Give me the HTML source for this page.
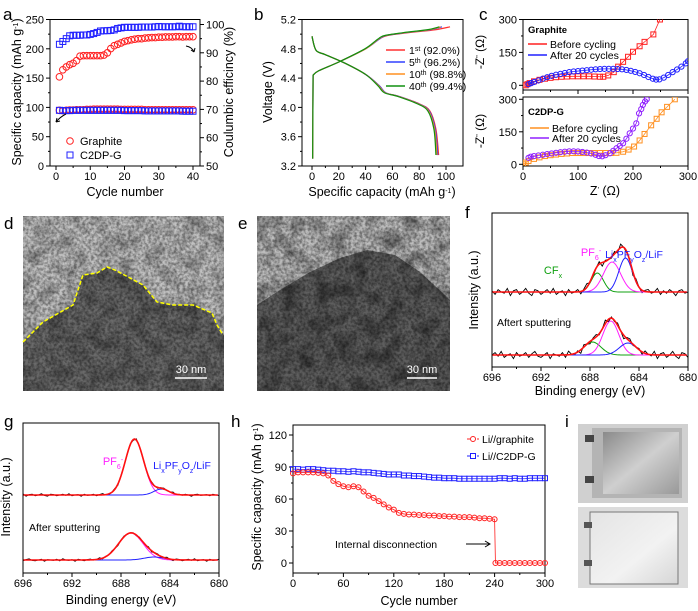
<!DOCTYPE html>
<html><head><meta charset="utf-8"><style>
html,body{margin:0;padding:0;background:#fff}
svg{display:block;font-family:"Liberation Sans",Arial,sans-serif}
</style></head><body>
<svg id="fig" width="698" height="611" viewBox="0 0 698 611" xmlns="http://www.w3.org/2000/svg">
<defs>
<filter id="noise" x="0" y="0" width="100%" height="100%">
<feTurbulence type="fractalNoise" baseFrequency="0.35" numOctaves="2" seed="3"/>
<feColorMatrix type="matrix" values="0 0 0 0 0  0 0 0 0 0  0 0 0 0 0  0 0 0 -2.2 1.5"/>
</filter>
<filter id="blot" x="0" y="0" width="100%" height="100%">
<feTurbulence type="fractalNoise" baseFrequency="0.06" numOctaves="3" seed="7"/>
<feColorMatrix type="matrix" values="0 0 0 0 0  0 0 0 0 0  0 0 0 0 0  0 0 0 -2.5 1.5"/>
</filter>
<linearGradient id="pouch1" x1="0" y1="0" x2="1" y2="1"><stop offset="0" stop-color="#8a8a8a"/><stop offset="0.5" stop-color="#cfcfcf"/><stop offset="1" stop-color="#999"/></linearGradient>
<linearGradient id="pouch2" x1="0" y1="0" x2="1" y2="1"><stop offset="0" stop-color="#e4e4e4"/><stop offset="0.6" stop-color="#f2f2f2"/><stop offset="1" stop-color="#d6d6d6"/></linearGradient>
<clipPath id="clipD"><rect x="23" y="216" width="201" height="175"/></clipPath>
<clipPath id="clipE"><rect x="257" y="216" width="193" height="175"/></clipPath>
<clipPath id="clipCt"><rect x="523" y="19.5" width="165" height="70.5"/></clipPath>
<clipPath id="clipCb"><rect x="523" y="97" width="165" height="69"/></clipPath>
</defs>

<g>
<rect x="23" y="216" width="201" height="175" fill="#c2c2c2"/>
<g clip-path="url(#clipD)">
<polygon points="23,342 43,322 73,305 83,275 97,273 107,267 115,270 143,285 157,302 173,305 193,305 212,313 217,325 224,335 224,391 23,391" fill="#6a6a6a"/>
<rect x="23" y="216" width="201" height="175" filter="url(#noise)" opacity="0.4"/>
<rect x="23" y="216" width="201" height="175" filter="url(#blot)" opacity="0.3"/>
</g>
<polyline points="23,342 43,322 73,305 83,275 97,273 107,267 115,270 143,285 157,302 173,305 193,305 212,313 217,325 223,335" fill="none" stroke="#ffff00" stroke-width="1.5" stroke-dasharray="4,2"/>
<line x1="175" y1="378" x2="207" y2="378" stroke="#fff" stroke-width="1.5"/>
<text x="191" y="373" font-size="11" fill="#fff" text-anchor="middle">30 nm</text>
</g>
<g>
<rect x="257" y="216" width="193" height="175" fill="#bdbdbd"/>
<g clip-path="url(#clipE)">
<polygon points="257,305 280,290 310,272 340,258 367,250 395,255 420,272 445,295 450,300 450,391 257,391" fill="#5e5e5e"/>
<rect x="257" y="216" width="193" height="175" filter="url(#noise)" opacity="0.4"/>
<rect x="257" y="216" width="193" height="175" filter="url(#blot)" opacity="0.4"/>
</g>
<line x1="407" y1="378" x2="437" y2="378" stroke="#fff" stroke-width="1.5"/>
<text x="422" y="373" font-size="11" fill="#fff" text-anchor="middle">30 nm</text>
</g>

<g>
<rect x="578" y="424" width="110" height="79" fill="#d0d0d0"/>
<rect x="592" y="428" width="90" height="70" fill="#b4b4b4"/>
<rect x="603" y="432" width="76" height="62" fill="url(#pouch1)"/>
<rect x="585" y="435" width="9" height="7" fill="#444"/>
<rect x="585" y="476" width="9" height="7" fill="#444"/>
<rect x="578" y="507" width="110" height="81" fill="#dcdcdc"/>
<rect x="590" y="512" width="88" height="72" fill="url(#pouch2)" stroke="#777" stroke-width="1"/>
<rect x="584" y="522" width="8" height="6" fill="#555"/>
<rect x="584" y="560" width="8" height="6" fill="#555"/>
</g>
</svg>
<script>
const cyclesA = [1,2,3,4,5,6,7,8,9,10,11,12,13,14,15,16,17,18,19,20,21,22,23,24,25,26,27,28,29,30,31,32,33,34,35,36,37,38,39,40];
const graphiteCE = [81.5,84,85,85.8,86.3,87.2,88.8,89,89,89,89,89,89,89.2,90,91.5,92.5,93,93.5,94,94.3,94.6,94.8,95,95,95.2,95.3,95.4,95.4,95.5,95.5,95.6,95.6,95.6,95.7,95.7,95.6,95.7,95.7,95.7];
const c2dpCE = [93,94,95,96,96.2,96.2,96.2,96.3,96.3,96.5,96.8,97.2,97.7,97.8,97.8,97.9,98.1,98.6,98.8,99,99,99,99,99,99.1,99.1,99.1,99.1,99.2,99.3,99.2,99.2,99.2,99.2,99.2,99.4,99.2,99.2,99.2,99.2];
const graphiteCap = [95,94.5,95,95.5,95.5,96,96,96,96.5,96.5,97,97,97,97,97,97,97,97,96.5,96.5,96.5,96.5,96.5,96.5,96.5,96,96,96,96,96,96,96,96,96,96,96,96,96,96,96];
const c2dpCap = [95,94.5,94.5,94.5,95,95,95,95,95,95,95,95,95,95,95,95,95,95,95,94.5,94.5,94.5,94.5,94.5,94.5,94,94,94,94,94,94,94,94,94,94,94,93.5,93.5,93.5,93.5];
const aXTicks = [0,10,20,30,40];
const aYTicks = [0,50,100,150,200,250];
const aY2Ticks = [50,60,70,80,90,100];
const chargeV = [3.3,4.44,4.5,4.62,4.8,4.93,4.98,5.02,5.06,5.1];
const charge1 = [0.5,0.8,5,20,40,50,56,72,92,103];
const charge5 = [0.5,0.8,5,20,40,50,55,70,88,97];
const charge10 = [0.5,0.8,5,20,40,49.5,54.5,69,87,96];
const charge40 = [0.5,0.8,5,20,39.5,49,54,68,86,95];
const dischV = [4.97,4.78,4.72,4.6,4.45,4.3,4.2,4.15,4.05,3.95,3.7,3.35];
const disch1 = [0,3,10,25,40,50,55,65,80,88,92.5,94.5];
const disch5 = [0,3,10,25,40,50,55,65,79.5,87.5,92,93.8];
const disch10 = [0,3,10,25,40,49.5,54.5,64.5,79,87,91.5,93.2];
const disch40 = [0,3,10,25,40,49,54,64,78.5,86.5,91,92.5];
const bXTicks = [0,20,40,60,80,100];
const bYTicks = [3.2,3.6,4.0,4.4,4.8,5.2];
const grBeforeX = [5,8,12,20,30,40,50,60,70,80,90,100,110,120,130,140,146,155,165,173,182,191,200,212,221,237,249];
const grBeforeY = [0,5,10,18,25,30,34,37,39,40,41,41,41,41,40,39,39,45,60,85,107,130,153,178,198,232,300];
const grAfterX = [10,15,20,28,36,44,52,60,68,76,84,92,100,108,116,124,132,140,148,156,164,172,180,188,196,204,212,220,228,236,242,248,256,264,272,280,288,296,300];
const grAfterY = [5,10,15,22,30,37,43,48,52,56,60,63,65,67,69,71,73,74,75,75,75,74,73,70,66,61,55,47,38,30,26,27,35,47,60,72,85,100,110];
const cBeforeX = [0,5,10,20,30,40,50,60,70,80,90,100,110,120,130,140,150,160,170,182,192,202,212,221,233,243,252,262,276];
const cBeforeY = [0,8,15,25,32,38,42,45,48,50,52,52,52,52,52,52,52,52,53,58,68,82,110,140,180,210,240,265,300];
const cAfterX = [10,14,20,28,36,44,52,60,68,76,84,92,100,108,116,124,132,138,144,150,158,164,170,176,182,188,194,200,206,211,215,218,222,225];
const cAfterY = [30,35,38,41,44,47,50,53,56,58,60,60,59,57,54,50,44,38,37,42,51,62,74,85,97,118,143,165,189,235,255,274,290,300];
const cXTicks = [0,100,200,300];
const cYTicks = [0,150,300];
const fTopBase = 75, fBotBase = 12;
const fTopCenters = [687.4,686.2,685.1], fTopHeights = [19,30,34], fTopSigmas = [0.5,0.7,0.55];
const fBotCenters = [687.8,686.3,684.9], fBotHeights = [13,34,12], fBotSigmas = [0.7,0.65,0.7];
const gTopBase = 78, gBotBase = 13;
const gTopCenters = [686.9,684.7], gTopHeights = [56,6], gTopSigmas = [0.75,0.6];
const gBotCenters = [687.2,685.3], gBotHeights = [27,3], gBotSigmas = [1.0,0.8];
const rawNoise = [1,-2,2,0,-1,3,-3,1,2,-2,0,3,-1,-3,2,1,-2,0,2,-1,3,-2,0,1,-3,2,-1,0,2,-2,1,3,-1,-2,0,2,-3,1,0,-1,2,-2,3,0,-1,1,-3,2,0,-2,1,2,-1,0,3,-2,1,-1,2,0,-3,1,2,-1,0];
const xpsTicks = [696,692,688,684,680];
const hBlueCycles = [0,6,12,18,24,30,36,42,48,54,60,66,72,78,84,90,96,102,108,114,120,126,132,138,144,150,156,162,168,174,180,186,192,198,204,210,216,222,228,234,240,246,252,258,264,270,276,282,288,294,300];
const hBlue = [88,88,87.5,88,88,87.5,87,86.5,86.5,86,86,85.5,86,85.5,85,85,84.5,84,83.5,83,83,83,82,82,81.5,81.5,81,80.5,80,80,79.5,79.5,79.5,79,79,79,79,79,79,79,79,79.5,79.5,79,79.5,79,79,79.5,79.5,79.5,79.5];
const hRedCycles = [0,6,12,18,24,30,36,42,48,54,60,66,72,78,84,90,96,102,108,114,120,126,132,138,144,150,156,162,168,174,180,186,192,198,204,210,216,222,228,234,240,241,246,252,258,264,270,276,282,288,294,300];
const hRed = [84,85,85,85,85,84.5,84,82,77,74,72,71,72,71,67,63,61,58,55,52,50,47,46,45.5,45.5,45,45,44.5,44.5,44,44,43.5,43.5,43,43,43,42.5,42,42,41.5,41,0,0,0,0,0,0,0,0,0,0,0];
const hXTicks = [0,60,120,180,240,300];
const hYTicks = [0,30,60,90,120];

const NS = 'http://www.w3.org/2000/svg';
const svg = document.getElementById('fig');
function mk(tag, attrs, name, parent){
  const e = document.createElementNS(NS, tag);
  for (const k in attrs) e.setAttribute(k, attrs[k]);
  
  
  (parent || svg).appendChild(e);
  return e;
}
function txt(x, y, s, size, name, opt){
  opt = opt || {};
  const t = mk('text', {x:x, y:y, 'font-size':size, 'text-anchor':opt.anchor||'middle', fill:opt.fill||'#000', 'font-weight':opt.bold?'bold':'normal'}, name, opt.parent);
  if (opt.rot) t.setAttribute('transform', 'rotate(-90 '+x+' '+y+')');
  t.innerHTML = s;
  return t;
}
function lin(d0, d1, r0, r1){ return v => r0 + (v - d0) / (d1 - d0) * (r1 - r0); }
function smooth(pts){
  let d = 'M' + pts[0][0] + ',' + pts[0][1];
  for (let i = 0; i < pts.length - 1; i++){
    const p0 = pts[Math.max(0,i-1)], p1 = pts[i], p2 = pts[i+1], p3 = pts[Math.min(pts.length-1,i+2)];
    const c1x = p1[0] + (p2[0]-p0[0])/6, c1y = p1[1] + (p2[1]-p0[1])/6;
    const c2x = p2[0] - (p3[0]-p1[0])/6, c2y = p2[1] - (p3[1]-p1[1])/6;
    d += ' C' + c1x + ',' + c1y + ' ' + c2x + ',' + c2y + ' ' + p2[0] + ',' + p2[1];
  }
  return d;
}
function frame(l, t, r, b, name){
  mk('rect', {x:l, y:t, width:r-l, height:b-t, fill:'none', stroke:'#000', 'stroke-width':1}, name);
}
function xTicks(sx, b, ticks, labels, name, minor){
  ticks.forEach((v, i) => {
    mk('line', {x1:sx(v), y1:b, x2:sx(v), y2:b+4, stroke:'#000', 'stroke-width':1}, name+'-tick');
    if (labels) txt(sx(v), b+14, labels[i], 11, name+'-label');
  });
  if (minor) for (let i = 0; i < ticks.length-1; i++){
    const v = (ticks[i]+ticks[i+1])/2;
    mk('line', {x1:sx(v), y1:b, x2:sx(v), y2:b+2, stroke:'#000', 'stroke-width':1}, name+'-minor-tick');
  }
}
function yTicks(sy, x, ticks, labels, name, side, minor){
  const dir = side === 'right' ? 1 : -1;
  ticks.forEach((v, i) => {
    mk('line', {x1:x, y1:sy(v), x2:x+dir*4, y2:sy(v), stroke:'#000', 'stroke-width':1}, name+'-tick');
    if (labels) txt(x+dir*6, sy(v)+4, labels[i], 11, name+'-label', {anchor: side==='right'?'start':'end'});
  });
  if (minor) for (let i = 0; i < ticks.length-1; i++){
    const v = (ticks[i]+ticks[i+1])/2;
    mk('line', {x1:x, y1:sy(v), x2:x+dir*2, y2:sy(v), stroke:'#000', 'stroke-width':1}, name+'-minor-tick');
  }
}
function circles(xs, ys, sx, sy, color, r, name, parent){
  xs.forEach((v, i) => mk('circle', {cx:sx(v), cy:sy(ys[i]), r:r, fill:'none', stroke:color, 'stroke-width':1}, name, parent));
}
function squares(xs, ys, sx, sy, color, s, name, parent){
  xs.forEach((v, i) => mk('rect', {x:sx(v)-s/2, y:sy(ys[i])-s/2, width:s, height:s, fill:'none', stroke:color, 'stroke-width':1}, name, parent));
}
function polyl(xs, ys, sx, sy, color, w, name, parent){
  mk('polyline', {points: xs.map((v,i)=>sx(v)+','+sy(ys[i])).join(' '), fill:'none', stroke:color, 'stroke-width':w}, name, parent);
}
const sup = s => '<tspan baseline-shift="super" font-size="7">'+s+'</tspan>';
const sub = s => '<tspan baseline-shift="sub" font-size="7">'+s+'</tspan>';

[['a',3,20],['b',254,20],['c',479,20],['d',4,229],['e',238,229],['f',465,218],['g',4,427],['h',231,427],['i',565,427]].forEach(p=>{
  txt(p[1], p[2], p[0], 17, 'panel-label-'+p[0], {anchor:'start'});
});

(function(){
  const l=50, r=200, t=19.5, b=166;
  const sx = lin(0, 40, 56, 193), sy = lin(0, 250, 166, 19.5), sy2 = lin(50, 100, 166, 24.5);
  frame(l, t, r, b, 'plot-a-frame');
  xTicks(sx, b, aXTicks, aXTicks, 'a-x-axis', true);
  yTicks(sy, l, aYTicks, aYTicks, 'a-y-axis', 'left', true);
  yTicks(sy2, r, aY2Ticks, aY2Ticks, 'a-y2-axis', 'right', true);
  circles(cyclesA, graphiteCE, sx, sy2, '#ff2020', 3.3, 'graphite-ce-point');
  squares(cyclesA, c2dpCE, sx, sy2, '#2020ff', 6, 'c2dp-ce-point');
  circles(cyclesA, graphiteCap, sx, sy, '#ff2020', 3.3, 'graphite-capacity-point');
  squares(cyclesA, c2dpCap, sx, sy, '#2020ff', 6, 'c2dp-capacity-point');
  mk('path', {d:'M66,114 Q60,117 56,122', fill:'none', stroke:'#000', 'stroke-width':1}, 'left-axis-arrow');
  mk('path', {d:'M56,122 l4,-1 M56,122 l1,-4', fill:'none', stroke:'#000', 'stroke-width':1}, 'left-axis-arrowhead');
  mk('path', {d:'M186,46 Q192,47 194,52', fill:'none', stroke:'#000', 'stroke-width':1}, 'right-axis-arrow');
  mk('path', {d:'M194,52 l-3,-2 M194,52 l1,-4', fill:'none', stroke:'#000', 'stroke-width':1}, 'right-axis-arrowhead');
  mk('circle', {cx:70, cy:141, r:3.3, fill:'none', stroke:'#ff2020'}, 'legend-graphite-marker');
  txt(80, 145, 'Graphite', 11, 'legend-graphite', {anchor:'start'});
  mk('rect', {x:67, y:152, width:6, height:6, fill:'none', stroke:'#2020ff'}, 'legend-c2dp-marker');
  txt(80, 159, 'C2DP-G', 11, 'legend-c2dp', {anchor:'start'});
  txt(125, 196, 'Cycle number', 12.5, 'a-x-axis-title');
  txt(21, 92, 'Specific capacity (mAh g'+sup('-1')+')', 12.5, 'a-y-axis-title', {rot:true});
  txt(233, 92, 'Coulumbic efficincy (%)', 12.5, 'a-y2-axis-title', {rot:true});
})();

(function(){
  const l=302, r=463, t=19.5, b=166;
  const sx = lin(0, 100, 312, 446), sy = lin(3.2, 5.2, 166, 19.5);
  frame(l, t, r, b, 'plot-b-frame');
  xTicks(sx, b, bXTicks, bXTicks, 'b-x-axis', true);
  yTicks(sy, l, bYTicks, bYTicks.map(v=>v.toFixed(1)), 'b-y-axis', 'left', true);
  const series = [[charge1,disch1,'#ff3030','cycle-1'],[charge5,disch5,'#3040ff','cycle-5'],[charge10,disch10,'#ff9020','cycle-10'],[charge40,disch40,'#109010','cycle-40']];
  series.forEach(s=>{
    const cp = s[0].map((v,i)=>[sx(v),sy(chargeV[i])]);
    const dCharge = 'M' + cp[0][0] + ',' + cp[0][1] + ' L' + smooth(cp.slice(1)).slice(1);
    mk('path', {d:dCharge, fill:'none', stroke:s[2], 'stroke-width':1.2}, s[3]+'-charge-line');
    mk('path', {d:smooth(s[1].map((v,i)=>[sx(v),sy(dischV[i])])), fill:'none', stroke:s[2], 'stroke-width':1.2}, s[3]+'-discharge-line');
  });
  const leg = [['1'+sup('st')+' (92.0%)','#ff3030'],['5'+sup('th')+' (96.2%)','#3040ff'],['10'+sup('th')+' (98.8%)','#ff9020'],['40'+sup('th')+' (99.4%)','#109010']];
  leg.forEach((g,i)=>{
    mk('line', {x1:386, y1:50+i*12, x2:405, y2:50+i*12, stroke:g[1], 'stroke-width':1.5}, 'legend-line-'+i);
    txt(409, 54+i*12, g[0], 10.5, 'legend-entry-'+i, {anchor:'start'});
  });
  txt(382, 196, 'Specific capacity (mAh g'+sup('-1')+')', 12.5, 'b-x-axis-title');
  txt(272, 92, 'Voltage (V)', 12.5, 'b-y-axis-title', {rot:true});
})();

(function(){
  const l=523, r=688;
  const sx = lin(0, 300, 523, 688);
  const syT = lin(0, 300, 85.3, 19.5), syB = lin(0, 300, 164.3, 99.3);
  frame(l, 19.5, r, 90, 'plot-c-top-frame');
  frame(l, 97, r, 166, 'plot-c-bottom-frame');
  xTicks(sx, 90, cXTicks, null, 'c-top-x-axis', true);
  xTicks(sx, 166, cXTicks, cXTicks, 'c-x-axis', true);
  yTicks(syT, l, cYTicks, cYTicks, 'c-top-y-axis', 'left', true);
  yTicks(syB, l, cYTicks, cYTicks, 'c-bottom-y-axis', 'left', true);
  const gT = mk('g', {'clip-path':'url(#clipCt)'}, 'c-top-series');
  polyl(grBeforeX, grBeforeY, sx, syT, '#ff2020', 0.8, 'graphite-before-line', gT);
  squares(grBeforeX, grBeforeY, sx, syT, '#ff2020', 5, 'graphite-before-point', gT);
  polyl(grAfterX, grAfterY, sx, syT, '#2020ff', 0.8, 'graphite-after-line', gT);
  circles(grAfterX, grAfterY, sx, syT, '#2020ff', 2.6, 'graphite-after-point', gT);
  const gB = mk('g', {'clip-path':'url(#clipCb)'}, 'c-bottom-series');
  polyl(cBeforeX, cBeforeY, sx, syB, '#ff9020', 0.8, 'c2dp-before-line', gB);
  squares(cBeforeX, cBeforeY, sx, syB, '#ff9020', 5, 'c2dp-before-point', gB);
  polyl(cAfterX, cAfterY, sx, syB, '#9020ff', 0.8, 'c2dp-after-line', gB);
  circles(cAfterX, cAfterY, sx, syB, '#9020ff', 2.6, 'c2dp-after-point', gB);
  txt(528, 33, 'Graphite', 9.5, 'c-top-title', {anchor:'start', bold:true});
  mk('line', {x1:528, y1:44, x2:547, y2:44, stroke:'#ff2020', 'stroke-width':1.5}, 'legend-before-line');
  txt(550, 48, 'Before cycling', 10.5, 'legend-before', {anchor:'start'});
  mk('line', {x1:528, y1:55, x2:547, y2:55, stroke:'#2020ff', 'stroke-width':1.5}, 'legend-after-line');
  txt(550, 59, 'After 20 cycles', 10.5, 'legend-after', {anchor:'start'});
  txt(528, 115, 'C2DP-G', 9.5, 'c-bottom-title', {anchor:'start', bold:true});
  mk('line', {x1:530, y1:128, x2:549, y2:128, stroke:'#ff9020', 'stroke-width':1.5}, 'legend-c2dp-before-line');
  txt(552, 132, 'Before cycling', 10.5, 'legend-c2dp-before', {anchor:'start'});
  mk('line', {x1:530, y1:138, x2:549, y2:138, stroke:'#9020ff', 'stroke-width':1.5}, 'legend-c2dp-after-line');
  txt(552, 142, 'After 20 cycles', 10.5, 'legend-c2dp-after', {anchor:'start'});
  txt(484, 52, '-Z'+sup('"')+' (Ω)', 12, 'c-top-y-axis-title', {rot:true});
  txt(484, 131, '-Z'+sup('"')+' (Ω)', 12, 'c-bottom-y-axis-title', {rot:true});
  txt(605, 195, 'Z'+sup("'")+' (Ω)', 12.5, 'c-x-axis-title');
})();

function gauss(x, c, h, s){ return h * Math.exp(-(x-c)*(x-c)/(2*s*s)); }
function xps(l, r, b, base, centers, heights, sigmas, colors, name, noiseAmp, offset){
  const sx = lin(696, 680, l, r), sy = v => b - v;
  const xs = []; for (let e = 696; e >= 680; e -= 0.25) xs.push(e);
  const raw = xs.map((e,i)=>{ let v = base; centers.forEach((c,k)=>v+=gauss(e,c,heights[k],sigmas[k])); return v + rawNoise[(i+offset)%rawNoise.length]*noiseAmp; });
  mk('polyline', {points: xs.map((e,i)=>sx(e)+','+sy(raw[i])).join(' '), fill:'none', stroke:'#000', 'stroke-width':0.9}, name+'-raw-data');
  const fx = []; for (let e = 696; e >= 680; e -= 0.1) fx.push(e);
  centers.forEach((c,k)=>{
    mk('polyline', {points: fx.map(e=>sx(e)+','+sy(base+gauss(e,c,heights[k],sigmas[k]))).join(' '), fill:'none', stroke:colors[k], 'stroke-width':1}, name+'-component-'+k);
  });
  mk('polyline', {points: fx.map(e=>{ let v=base; centers.forEach((c,k)=>v+=gauss(e,c,heights[k],sigmas[k])); return sx(e)+','+sy(v); }).join(' '), fill:'none', stroke:'#ff1010', 'stroke-width':1.6}, name+'-fit-envelope');
}

(function(){
  const l=492, r=688, t=213, b=367;
  const sx = lin(696, 680, l, r);
  xps(l, r, b, fTopBase, fTopCenters, fTopHeights, fTopSigmas, ['#10a010','#ff20ff','#2020ff'], 'f-top', 1.2, 0);
  xps(l, r, b, fBotBase, fBotCenters, fBotHeights, fBotSigmas, ['#10a010','#ff20ff','#2020ff'], 'f-bottom', 1.2, 17);
  frame(l, t, r, b, 'plot-f-frame');
  xTicks(sx, b, xpsTicks, xpsTicks, 'f-x-axis', true);
  txt(553, 274, 'CF'+sub('x'), 11, 'cfx-label', {anchor:'middle', fill:'#10a010'});
  txt(591, 256, 'PF'+sub('6')+sup('-'), 11, 'pf6-label', {anchor:'middle', fill:'#ff20ff'});
  txt(634, 258, 'Li'+sub('x')+'PF'+sub('y')+'O'+sub('z')+'/LiF', 10.5, 'lif-label', {anchor:'middle', fill:'#2020ff'});
  txt(497, 326, 'Aftert sputtering', 10.5, 'after-sputtering-label', {anchor:'start'});
  txt(590, 395, 'Binding energy (eV)', 12.5, 'f-x-axis-title');
  txt(478, 290, 'Intensity (a.u.)', 12.5, 'f-y-axis-title', {rot:true});
})();

(function(){
  const l=23, r=219, t=423, b=573;
  const sx = lin(696, 680, l, r);
  xps(l, r, b, gTopBase, gTopCenters, gTopHeights, gTopSigmas, ['#ff20ff','#2020ff'], 'g-top', 0.4, 5);
  xps(l, r, b, gBotBase, gBotCenters, gBotHeights, gBotSigmas, ['#ff20ff','#2020ff'], 'g-bottom', 0.4, 29);
  frame(l, t, r, b, 'plot-g-frame');
  xTicks(sx, b, xpsTicks, xpsTicks, 'g-x-axis', true);
  txt(113, 465, 'PF'+sub('6')+sup('-'), 11, 'g-pf6-label', {anchor:'middle', fill:'#ff20ff'});
  txt(182, 469, 'Li'+sub('x')+'PF'+sub('y')+'O'+sub('z')+'/LiF', 10.5, 'g-lif-label', {anchor:'middle', fill:'#2020ff'});
  txt(29, 531, 'After sputtering', 10.5, 'g-after-sputtering-label', {anchor:'start'});
  txt(121, 604, 'Binding energy (eV)', 12.5, 'g-x-axis-title');
  txt(10, 497, 'Intensity (a.u.)', 12.5, 'g-y-axis-title', {rot:true});
})();

(function(){
  const l=293, r=545, t=425, b=573;
  const sx = lin(0, 300, l, r), sy = lin(0, 120, 563, 435);
  frame(l, t, r, b, 'plot-h-frame');
  xTicks(sx, b, hXTicks, hXTicks, 'h-x-axis', true);
  yTicks(sy, l, hYTicks, hYTicks, 'h-y-axis', 'left', true);
  polyl(hBlueCycles, hBlue, sx, sy, '#2020ff', 0.8, 'c2dp-line');
  squares(hBlueCycles, hBlue, sx, sy, '#2020ff', 5, 'c2dp-point');
  polyl(hRedCycles, hRed, sx, sy, '#ff2020', 0.8, 'graphite-line');
  circles(hRedCycles, hRed, sx, sy, '#ff2020', 2.5, 'graphite-point');
  mk('line', {x1:467, y1:439, x2:479, y2:439, stroke:'#ff2020', 'stroke-dasharray':'3,2'}, 'legend-graphite-line');
  mk('circle', {cx:473, cy:439, r:2.5, fill:'#fff', stroke:'#ff2020'}, 'legend-graphite-marker');
  txt(482, 443, 'Li//graphite', 10.5, 'legend-li-graphite', {anchor:'start'});
  mk('line', {x1:467, y1:456, x2:479, y2:456, stroke:'#2020ff', 'stroke-dasharray':'3,2'}, 'legend-c2dp-line');
  mk('rect', {x:470.5, y:453.5, width:5, height:5, fill:'#fff', stroke:'#2020ff'}, 'legend-c2dp-marker');
  txt(482, 460, 'Li//C2DP-G', 10.5, 'legend-li-c2dp', {anchor:'start'});
  txt(335, 548, 'Internal disconnection', 10.5, 'disconnection-label', {anchor:'start'});
  mk('line', {x1:466, y1:544, x2:489, y2:544, stroke:'#000', 'stroke-width':1}, 'disconnection-arrow');
  mk('path', {d:'M485,541 L490,544 L485,547', fill:'none', stroke:'#000', 'stroke-width':1}, 'disconnection-arrowhead');
  txt(419, 605, 'Cycle number', 12.5, 'h-x-axis-title');
  txt(261, 497, 'Specific capacity (mAh g'+sup('-1')+')', 12.5, 'h-y-axis-title', {rot:true});
})();
</script>
</body></html>
